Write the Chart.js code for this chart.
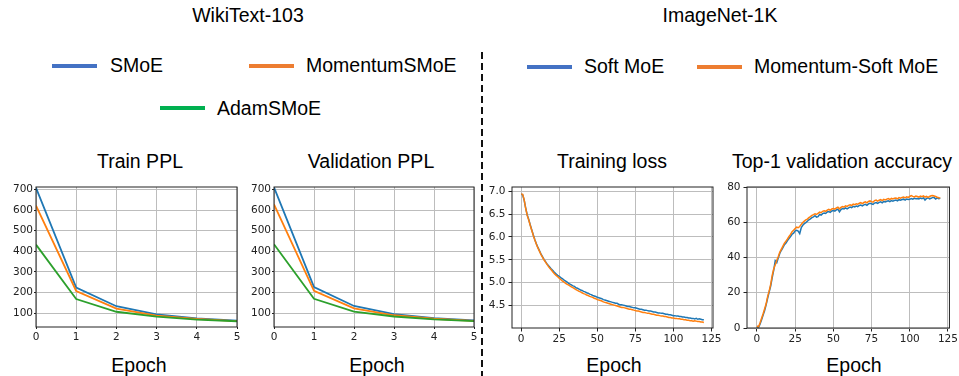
<!DOCTYPE html>
<html>
<head>
<meta charset="utf-8">
<script src="https://cdn.jsdelivr.net/npm/chart.js@4.4.1/dist/chart.umd.min.js"></script>
<style>
  body { margin: 0; background: #fff; width: 959px; height: 376px; position: relative; overflow: hidden;
         font-family: "Liberation Sans", Arial, sans-serif; color: #000; }
  .lbl { position: absolute; font-size: 19.5px; line-height: 20px; white-space: nowrap; }
  .ctr { width: 300px; text-align: center; }
  .swatch { position: absolute; height: 4px; width: 45px; }
  canvas { position: absolute; }
  #divider { position: absolute; left: 481px; top: 52px; width: 2px; height: 324px;
             background: repeating-linear-gradient(to bottom, #111 0 7px, transparent 7px 11px); }
</style>
</head>
<body>

<!-- titres et légendes -->
<div class="lbl ctr" style="left:98px; top:5px;">WikiText-103</div>
<div class="lbl ctr" style="left:570px; top:5px;">ImageNet-1K</div>

<div class="swatch" style="left:52px; top:64px; background:#4472c4;"></div>
<div class="lbl" style="left:110px; top:55px;">SMoE</div>
<div class="swatch" style="left:249px; top:64px; background:#ed7d31;"></div>
<div class="lbl" style="left:306px; top:55px;">MomentumSMoE</div>
<div class="swatch" style="left:160px; top:106px; background:#00b050;"></div>
<div class="lbl" style="left:217px; top:98px;">AdamSMoE</div>

<div class="swatch" style="left:527px; top:65px; background:#4472c4;"></div>
<div class="lbl" style="left:584px; top:56px;">Soft MoE</div>
<div class="swatch" style="left:697px; top:65px; background:#ed7d31;"></div>
<div class="lbl" style="left:754px; top:56px;">Momentum-Soft MoE</div>

<div class="lbl ctr" style="left:-10px; top:151px;">Train PPL</div>
<div class="lbl ctr" style="left:221px; top:151px;">Validation PPL</div>
<div class="lbl ctr" style="left:462px; top:151px;">Training loss</div>
<div class="lbl ctr" style="left:692px; top:151px;">Top-1 validation accuracy</div>

<div class="lbl ctr" style="left:-11px; top:355px;">Epoch</div>
<div class="lbl ctr" style="left:227px; top:355px;">Epoch</div>
<div class="lbl ctr" style="left:464px; top:355px;">Epoch</div>
<div class="lbl ctr" style="left:704px; top:355px;">Epoch</div>

<div id="divider"></div>

<canvas id="trainPPL"></canvas>
<canvas id="validPPL"></canvas>
<canvas id="trainLoss"></canvas>
<canvas id="top1Acc"></canvas>

<script>
// WikiText-103 : perplexité par époque
const pplEpochs = [0, 1, 2, 3, 4, 5];
const trainSMoE     = [708, 224, 133, 93, 74, 63];
const trainMomentum = [622, 207, 121, 87, 71, 61];
const trainAdam     = [432, 168, 106, 82, 68, 60];
const validSMoE     = [710, 226, 134, 95, 75, 64];
const validMomentum = [628, 208, 123, 89, 72, 62];
const validAdam     = [434, 169, 107, 83, 69, 61];
const pplTicks = [100, 200, 300, 400, 500, 600, 700];

// ImageNet-1K : perte d'entraînement (époques 0..120)
const lossSoft = [
  6.93, 6.92, 6.80, 6.63, 6.48, 6.38, 6.26, 6.15, 6.04, 5.94,
  5.85, 5.77, 5.70, 5.63, 5.57, 5.51, 5.46, 5.41, 5.37, 5.33,
  5.29, 5.26, 5.22, 5.19, 5.16, 5.14, 5.11, 5.09, 5.06, 5.04,
  5.02, 4.99, 4.97, 4.95, 4.93, 4.92, 4.89, 4.88, 4.86, 4.84,
  4.83, 4.81, 4.80, 4.78, 4.77, 4.75, 4.74, 4.72, 4.71, 4.70,
  4.68, 4.67, 4.66, 4.65, 4.63, 4.62, 4.61, 4.60, 4.59, 4.58,
  4.57, 4.56, 4.55, 4.55, 4.53, 4.52, 4.52, 4.51, 4.50, 4.49,
  4.48, 4.48, 4.47, 4.46, 4.45, 4.45, 4.44, 4.43, 4.42, 4.42,
  4.41, 4.40, 4.40, 4.39, 4.38, 4.38, 4.37, 4.36, 4.36, 4.35,
  4.34, 4.34, 4.33, 4.33, 4.32, 4.31, 4.31, 4.30, 4.30, 4.29,
  4.28, 4.28, 4.27, 4.27, 4.26, 4.26, 4.25, 4.25, 4.24, 4.24,
  4.23, 4.23, 4.22, 4.22, 4.21, 4.22, 4.20, 4.21, 4.20, 4.19,
  4.19
];
const lossMomentum = [
  6.94, 6.93, 6.81, 6.62, 6.47, 6.37, 6.25, 6.14, 6.03, 5.93,
  5.84, 5.76, 5.69, 5.62, 5.56, 5.50, 5.45, 5.40, 5.35, 5.31,
  5.27, 5.23, 5.19, 5.16, 5.13, 5.10, 5.07, 5.04, 5.02, 4.99,
  4.97, 4.95, 4.93, 4.91, 4.89, 4.87, 4.85, 4.83, 4.81, 4.80,
  4.78, 4.76, 4.75, 4.73, 4.72, 4.70, 4.69, 4.68, 4.66, 4.65,
  4.63, 4.62, 4.61, 4.60, 4.58, 4.57, 4.56, 4.55, 4.54, 4.53,
  4.52, 4.51, 4.50, 4.49, 4.48, 4.47, 4.46, 4.46, 4.45, 4.44,
  4.43, 4.42, 4.42, 4.41, 4.40, 4.39, 4.38, 4.38, 4.37, 4.36,
  4.35, 4.35, 4.34, 4.33, 4.33, 4.32, 4.31, 4.31, 4.30, 4.29,
  4.29, 4.28, 4.27, 4.27, 4.26, 4.26, 4.25, 4.24, 4.24, 4.23,
  4.23, 4.22, 4.22, 4.21, 4.21, 4.20, 4.20, 4.19, 4.19, 4.18,
  4.18, 4.17, 4.17, 4.16, 4.17, 4.16, 4.15, 4.15, 4.14, 4.14,
  4.13
];

// ImageNet-1K : précision top-1 (%)
const accSoft = [
  0.8, 0.2, 2.1, 4.6, 7.2, 9.8, 13.1, 16.9, 20.4, 23.8,
  28.6, 32.9, 38.2, 37.1, 39.8, 42.4, 44.1, 45.6, 47.3, 48.2,
  49.6, 50.8, 51.9, 53.2, 53.8, 55.1, 55.4, 55.0, 53.6, 56.9,
  58.3, 59.2, 59.8, 60.6, 61.4, 61.9, 62.6, 63.1, 63.7, 62.9,
  63.2, 64.4, 64.1, 64.9, 65.2, 65.0, 65.8, 66.1, 65.6, 66.4,
  66.7, 66.3, 67.0, 67.4, 65.9, 67.2, 67.8, 67.5, 68.1, 67.6,
  68.2, 68.6, 68.3, 69.0, 68.7, 69.2, 68.9, 69.5, 69.8, 69.3,
  69.9, 70.2, 69.6, 70.4, 70.8, 70.5, 70.1, 70.9, 71.2, 70.7,
  71.3, 71.6, 71.0, 71.8, 71.5, 71.9, 72.2, 71.7, 72.3, 72.0,
  72.4, 72.6, 72.1, 72.8, 72.5, 72.9, 73.1, 72.6, 73.2, 72.9,
  73.0, 73.4, 73.1, 73.6, 73.3, 73.5, 73.2, 73.7, 73.4, 73.8,
  72.6, 73.5, 73.9, 73.3, 73.6, 74.1, 74.0, 73.2, 73.8, 73.4,
  73.6
];
const accMomentum = [
  1.2, 0.6, 2.8, 5.4, 7.9, 10.8, 13.6, 17.8, 20.9, 24.7,
  29.8, 33.6, 35.9, 38.4, 40.6, 43.1, 44.8, 46.5, 48.1, 49.3,
  50.5, 51.9, 53.1, 54.6, 55.5, 56.4, 57.2, 56.9, 57.6, 58.8,
  59.9, 60.6, 61.3, 61.8, 62.6, 63.2, 63.9, 64.3, 64.8, 64.4,
  65.1, 65.7, 65.4, 66.2, 66.5, 66.2, 66.9, 67.3, 66.8, 67.5,
  67.8, 67.4, 68.1, 68.5, 67.6, 68.4, 68.9, 68.6, 69.3, 69.0,
  69.6, 69.9, 69.5, 70.3, 70.0, 70.5, 70.2, 70.8, 71.1, 70.6,
  71.2, 71.6, 71.0, 71.8, 72.1, 71.7, 71.4, 72.3, 72.6, 72.0,
  72.5, 72.8, 72.3, 73.0, 72.7, 73.1, 73.4, 72.9, 73.5, 73.2,
  73.6, 73.8, 73.3, 74.0, 73.7, 74.1, 74.3, 73.8, 74.4, 74.1,
  74.6, 75.1, 74.7, 74.4, 74.9, 74.6, 74.2, 74.8, 74.5, 75.0,
  74.3, 74.7, 74.1, 74.6, 75.0, 75.2, 74.9, 74.6, 74.2, 73.9,
  73.7
];
const epochTicks = [0, 25, 50, 75, 100, 125];
const lossTicks = [4.5, 5.0, 5.5, 6.0, 6.5, 7.0];
const accTicks = [0, 20, 40, 60, 80];

const BLUE = "#1f77b4", ORANGE = "#ff7f0e", GREEN = "#2ca02c";

// cadre noir autour de la zone de tracé (façon matplotlib)
const framePlugin = {
  id: "frame",
  afterDraw(chart) {
    const { ctx, chartArea: a } = chart;
    ctx.save();
    ctx.strokeStyle = "#222";
    ctx.lineWidth = 1;
    ctx.strokeRect(a.left, a.top, a.right - a.left, a.bottom - a.top);
    ctx.restore();
  }
};

function series(xs, ys, color, order, width) {
  return {
    data: ys.map((v, i) => ({ x: xs ? xs[i] : i, y: v })),
    borderColor: color,
    borderWidth: width || 1.5,
    pointRadius: 0,
    tension: 0,
    order: order
  };
}

function axis(cfg, fit) {
  return {
    type: "linear",
    min: cfg.min,
    max: cfg.max,
    afterBuildTicks: s => { s.ticks = cfg.ticks.map(v => ({ value: v })); },
    afterFit: fit,
    border: { display: false },
    grid: { color: "#bdbdbd", lineWidth: 1, tickColor: "#222", tickLength: cfg.tickLen },
    ticks: {
      font: { family: "DejaVu Sans", size: 10.5 },
      color: "#222",
      padding: cfg.pad,
      maxRotation: 0,
      autoSkip: false,
      callback: cfg.fmt || (v => v)
    }
  };
}

// box = position du canvas, area = zone de tracé voulue (coordonnées page)
function drawPanel(id, box, area, xCfg, yCfg, datasets) {
  const cv = document.getElementById(id);
  cv.width = box.w;
  cv.height = box.h;
  cv.style.left = box.x + "px";
  cv.style.top = box.y + "px";
  new Chart(cv, {
    type: "line",
    data: { datasets: datasets },
    options: {
      responsive: false,
      animation: false,
      layout: {
        autoPadding: false,
        padding: { left: 0, top: area.t - box.y, right: box.x + box.w - area.r, bottom: 0 }
      },
      plugins: { legend: { display: false }, tooltip: { enabled: false } },
      scales: {
        x: axis(xCfg, s => { s.height = box.y + box.h - area.b; }),
        y: axis(yCfg, s => { s.width = area.l - box.x; })
      }
    },
    plugins: [framePlugin]
  });
}

const pplX = { min: 0, max: 5, ticks: pplEpochs, tickLen: 2, pad: 2 };
const pplY = { min: 32, max: 712, ticks: pplTicks, tickLen: 2, pad: 1 };

drawPanel("trainPPL", { x: 0, y: 175, w: 246, h: 175 }, { l: 36, t: 187, r: 237, b: 327 },
  pplX, pplY,
  [series(pplEpochs, trainSMoE, BLUE, 3, 1.8), series(pplEpochs, trainMomentum, ORANGE, 2, 1.8), series(pplEpochs, trainAdam, GREEN, 1, 1.8)]);

drawPanel("validPPL", { x: 240, y: 175, w: 244, h: 175 }, { l: 274, t: 187, r: 474, b: 327 },
  pplX, pplY,
  [series(pplEpochs, validSMoE, BLUE, 3, 1.8), series(pplEpochs, validMomentum, ORANGE, 2, 1.8), series(pplEpochs, validAdam, GREEN, 1, 1.8)]);

drawPanel("trainLoss", { x: 484, y: 175, w: 240, h: 175 }, { l: 512, t: 187, r: 713, b: 328 },
  { min: -6, max: 126, ticks: epochTicks, tickLen: 3.5, pad: 1 },
  { min: 4.01, max: 7.09, ticks: lossTicks, tickLen: 3.5, pad: 3, fmt: v => v.toFixed(1) },
  [series(null, lossSoft, BLUE, 2), series(null, lossMomentum, ORANGE, 1)]);

drawPanel("top1Acc", { x: 724, y: 175, w: 235, h: 175 }, { l: 747, t: 187, r: 950, b: 328 },
  { min: -6.5, max: 126, ticks: epochTicks, tickLen: 3.5, pad: 1 },
  { min: 0, max: 80, ticks: accTicks, tickLen: 3.5, pad: 3 },
  [series(null, accSoft, BLUE, 2), series(null, accMomentum, ORANGE, 1)]);
</script>
</body>
</html>
